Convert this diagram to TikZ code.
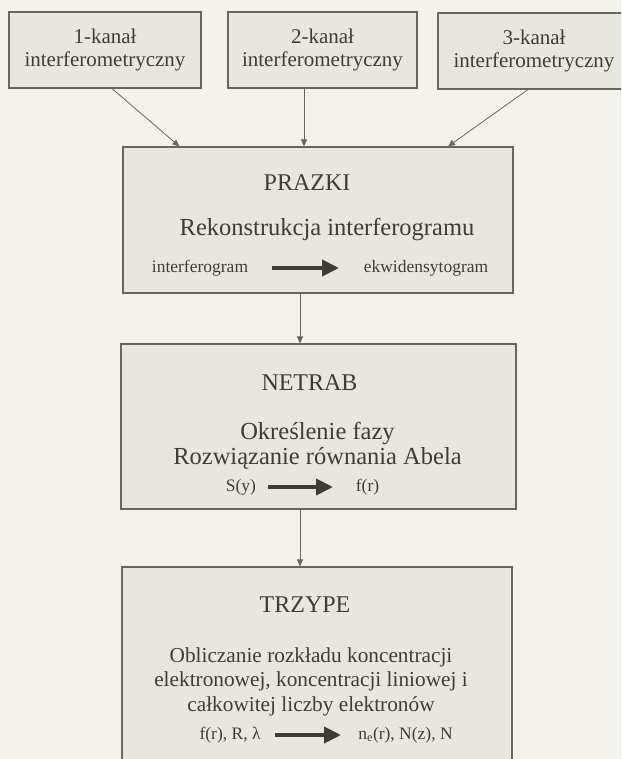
\documentclass[tikz,border=0pt]{standalone}
\usepackage{fontspec}
\setmainfont{Liberation Serif}
\usetikzlibrary{arrows.meta,calc}
\definecolor{bg}{HTML}{F3F2EC}
\definecolor{boxfill}{HTML}{E8E7DF}
\definecolor{edgec}{HTML}{68675F}
\definecolor{ink}{HTML}{3D3C36}
\begin{document}
\begin{tikzpicture}[x=1pt,y=-1pt,
  box/.style={draw=edgec, fill=boxfill, line width=1.1pt, inner sep=0pt, text=ink},
  topbox/.style={box, minimum width=192pt, minimum height=76pt, align=center, font=\fontsize{21}{23}\selectfont},
  head/.style={text=ink, font=\fontsize{24}{26}\selectfont, inner sep=0pt},
  body/.style={text=ink, font=\fontsize{24.5}{25}\selectfont, inner sep=0pt, align=center},
  tbody/.style={text=ink, font=\fontsize{21.3}{24.5}\selectfont, inner sep=0pt, align=center},
  small/.style={text=ink, font=\fontsize{17.5}{19}\selectfont, inner sep=0pt},
  link/.style={draw=edgec, line width=0.8pt, -{Triangle[length=7pt,width=6pt]}},
  bigarrow/.style={draw=ink, line width=4pt, -{Triangle[length=17pt,width=16pt]}}]
\clip (0,0) rectangle (621,759);
\fill[bg] (0,0) rectangle (621,759);

% top boxes
\node[topbox] (b1) at (105,50) {1-kanał\\interferometryczny};
\node[topbox, minimum width=189pt] (b2) at (322.5,50) {2-kanał\\interferometryczny};
\node[topbox] (b3) at (534,51) {3-kanał\\interferometryczny};

% main boxes
\node[box, minimum width=390pt, minimum height=146pt] (prazki) at (318,220) {};
\node[box, minimum width=395pt, minimum height=165pt] (netrab) at (318.5,426.5) {};
\node[box, minimum width=390pt, minimum height=223pt] (trzype) at (317,678.5) {};

% PRAZKI content
\node[head] (ph) at (307,183) {PRAZKI};
\node[body] (pb) at (327,230) {Rekonstrukcja interferogramu};
\node[small] (pa) at (200,268) {interferogram};
\node[small] (pc) at (426,268) {ekwidensytogram};
\coordinate (pa1) at (272,268);
\coordinate (pa2) at (339,268);
\draw[bigarrow] (pa1) -- (pa2);

% NETRAB content
\node[head] (nh) at (309.5,383) {NETRAB};
\node[body] (nb) at (317.5,445.5) {Określenie fazy\\Rozwiązanie równania Abela};
\node[small] (na) at (241,487) {S(y)};
\node[small] (nc) at (367.5,487) {f(r)};
\coordinate (na1) at (268,487);
\coordinate (na2) at (333,487);
\draw[bigarrow] (na1) -- (na2);

% TRZYPE content
\node[head] (th) at (305,605) {TRZYPE};
\node[tbody] (tb) at (311,681.5) {Obliczanie rozkładu koncentracji\\elektronowej, koncentracji liniowej i\\całkowitej liczby elektronów};
\node[small] (ta) at (230,735) {f(r), R, λ};
\node[small] (tc) at (405.5,735) {n\textsubscript{e}(r), N(z), N};
\coordinate (ta1) at (275,735);
\coordinate (ta2) at (341,735);
\draw[bigarrow] (ta1) -- (ta2);

% connectors
\draw[link] ([xshift=7pt]b1.south) -- ([xshift=57pt]prazki.north west);
\draw[link] ([xshift=-18.5pt]b2.south) -- ([xshift=-14pt]prazki.north);
\draw[link] ([xshift=-6pt]b3.south) -- ([xshift=130pt]prazki.north);
\draw[link] ([xshift=-18pt]prazki.south) -- ([xshift=-18pt]prazki.south |- netrab.north);
\draw[link] ([xshift=-18.5pt]netrab.south) -- ([xshift=-18.5pt]netrab.south |- trzype.north);
\end{tikzpicture}
\end{document}
